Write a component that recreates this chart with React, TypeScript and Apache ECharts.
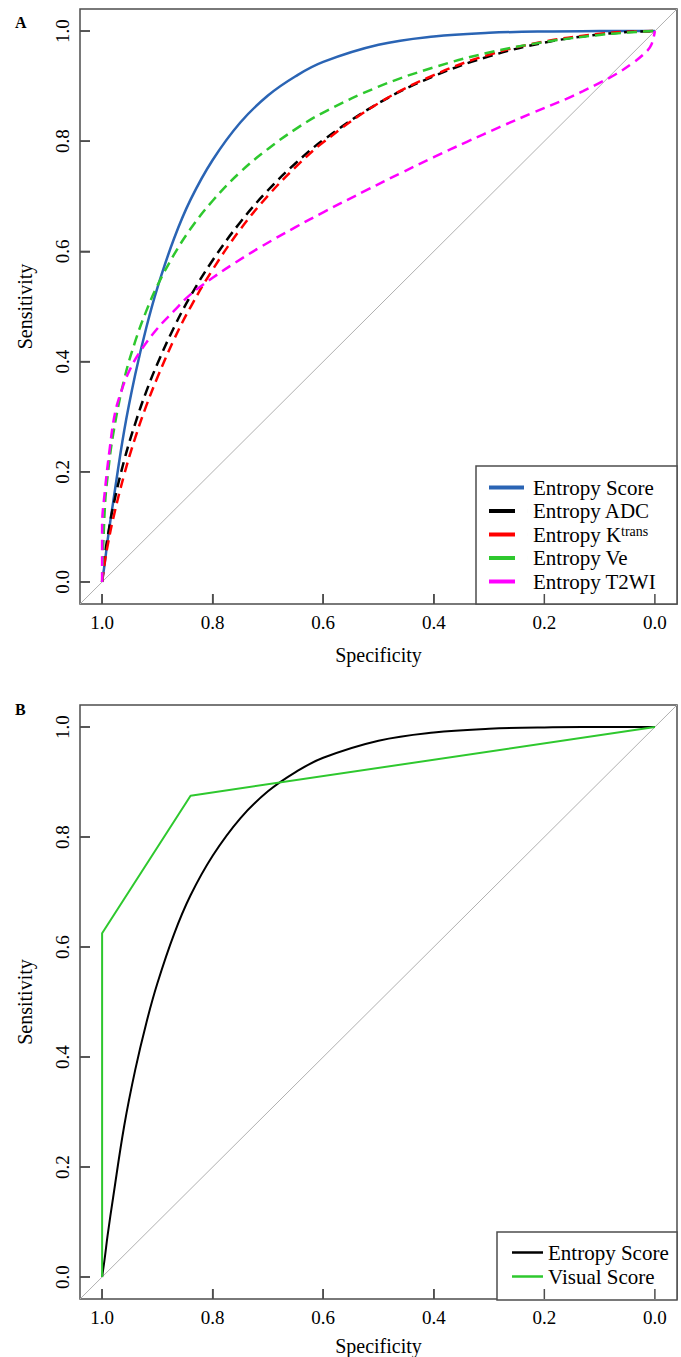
import React, { useEffect, useRef } from 'react';
import * as echarts from 'echarts';

// Shared specificity grid for the smooth ROC curves
const specGrid = [1, 0.995, 0.99, 0.98, 0.96, 0.94, 0.92, 0.9, 0.87, 0.84, 0.8, 0.75, 0.7, 0.65, 0.6, 0.5, 0.4, 0.3, 0.2, 0.1, 0.05, 0];
const scoreSens = [0, 0.036, 0.076, 0.145, 0.275, 0.377, 0.462, 0.534, 0.623, 0.694, 0.766, 0.834, 0.883, 0.918, 0.944, 0.975, 0.99, 0.9967, 0.9993, 0.9999, 1, 1];
const adcSens = [0, 0.048, 0.082, 0.137, 0.221, 0.288, 0.346, 0.396, 0.462, 0.519, 0.584, 0.653, 0.711, 0.76, 0.802, 0.869, 0.918, 0.954, 0.979, 0.9938, 0.9981, 1];
const ktransSens = [0, 0.037, 0.066, 0.115, 0.195, 0.262, 0.32, 0.371, 0.44, 0.499, 0.567, 0.64, 0.701, 0.753, 0.798, 0.869, 0.92, 0.957, 0.981, 0.995, 0.9986, 1];
const veSens = [0, 0.136, 0.192, 0.268, 0.368, 0.437, 0.492, 0.538, 0.594, 0.641, 0.692, 0.744, 0.786, 0.822, 0.852, 0.899, 0.934, 0.961, 0.98, 0.993, 0.9974, 1];

const t2Spec = [1, 1, 0.995, 0.986, 0.977, 0.965, 0.95, 0.93, 0.9, 0.87, 0.84, 0.8, 0.76, 0.71, 0.65, 0.6, 0.52, 0.46, 0.4, 0.34, 0.28, 0.22, 0.16, 0.13, 0.1, 0.07, 0.04, 0.015, 0.006, 0];
const t2Sens = [0, 0.1, 0.165, 0.244, 0.305, 0.347, 0.385, 0.42, 0.46, 0.492, 0.522, 0.552, 0.579, 0.61, 0.644, 0.671, 0.712, 0.742, 0.771, 0.799, 0.826, 0.852, 0.877, 0.891, 0.906, 0.922, 0.942, 0.963, 0.976, 1];

const visualSpec = [1, 1, 0.84, 0];
const visualSens = [0, 0.625, 0.875, 1];

const diagSpec = [1.04, -0.04];
const diagSens = [-0.04, 1.04];

const tickValues = [0, 0.2, 0.4, 0.6, 0.8, 1.0];
const AXIS_MIN = -0.04;
const AXIS_MAX = 1.04;

const SERIF = "'Liberation Serif', 'Times New Roman', serif";
const BOX = '#4d4d4d';
const BLUE = '#2a64b4';
const GREEN = '#2ec82e';

const zip = (xs: number[], ys: number[]) => xs.map((x, i) => [x, ys[i]]);

const longIcon = 'path://M0 0H35V4H0Z M38.99 0H39V4H38.99Z';
const shortIcon = 'path://M0 0H26V4H0Z M38.99 0H39V4H38.99Z';

const tickStyle = { show: true, inside: true, length: 10, customValues: tickValues, lineStyle: { color: BOX, width: 1.5 } };

function makeX(gridIndex: number, nameGap: number) {
  return {
    type: 'value',
    gridIndex,
    min: AXIS_MIN,
    max: AXIS_MAX,
    inverse: true,
    name: 'Specificity',
    nameLocation: 'middle',
    nameGap,
    nameTextStyle: { fontFamily: SERIF, fontSize: 20, color: '#000' },
    axisLine: { show: false, onZero: false },
    axisTick: tickStyle,
    axisLabel: { show: true, customValues: tickValues, margin: 9, fontFamily: SERIF, fontSize: 19, color: '#000', formatter: (v: number) => v.toFixed(1) },
    splitLine: { show: false },
  };
}

function makeY(gridIndex: number) {
  return {
    type: 'value',
    gridIndex,
    min: AXIS_MIN,
    max: AXIS_MAX,
    name: 'Sensitivity',
    nameLocation: 'middle',
    nameGap: 45,
    nameTextStyle: { fontFamily: SERIF, fontSize: 20, color: '#000' },
    axisLine: { show: false, onZero: false },
    axisTick: tickStyle,
    axisLabel: { show: true, rotate: 90, customValues: tickValues, margin: 8, fontFamily: SERIF, fontSize: 19, color: '#000', formatter: (v: number) => v.toFixed(1) },
    splitLine: { show: false },
  };
}

function lineSeries(name: string, idx: number, data: number[][], color: string, width: number, dashed: boolean, smooth: number | boolean) {
  return {
    type: 'line',
    name,
    xAxisIndex: idx,
    yAxisIndex: idx,
    data,
    showSymbol: false,
    symbol: 'none',
    smooth,
    clip: false,
    lineStyle: { color, width, type: dashed ? [10, 6] : 'solid', cap: 'butt' },
    itemStyle: { color },
    silent: true,
  };
}

const legendBoxes = [
  { type: 'rect', id: 'legA', shape: { x: 476, y: 466, width: 201, height: 138 }, style: { fill: '#fff', stroke: BOX, lineWidth: 1.5 }, z: 5, silent: true },
  { type: 'rect', id: 'legB', shape: { x: 497, y: 1232, width: 180, height: 68 }, style: { fill: '#fff', stroke: BOX, lineWidth: 1.5 }, z: 5, silent: true },
];

export default function App() {
  const ref = useRef<HTMLDivElement>(null);
  useEffect(() => {
    if (!ref.current) return;
    const chart = echarts.init(ref.current, undefined, { renderer: 'svg' });
    const textStyle = { fontFamily: SERIF, fontSize: 21, color: '#000' };
    const option = {
      animation: false,
      backgroundColor: '#fff',
      title: [
        { text: 'A', left: 15, top: 14, padding: 0, textStyle: { fontFamily: SERIF, fontSize: 16, fontWeight: 'bold', color: '#000' } },
        { text: 'B', left: 15, top: 701, padding: 0, textStyle: { fontFamily: SERIF, fontSize: 16, fontWeight: 'bold', color: '#000' } },
      ],
      grid: [
        { left: 80, top: 9, width: 597, height: 595, show: true, borderColor: BOX, borderWidth: 1.5, backgroundColor: 'transparent' },
        { left: 80, top: 705, width: 597, height: 595, show: true, borderColor: BOX, borderWidth: 1.5, backgroundColor: 'transparent' },
      ],
      xAxis: [makeX(0, 41), makeX(1, 37)],
      yAxis: [makeY(0), makeY(1)],
      graphic: legendBoxes,
      legend: [
        {
          orient: 'vertical',
          left: 489,
          top: 477,
          padding: 0,
          itemGap: 2.5,
          itemWidth: 39,
          itemHeight: 4,
          selectedMode: false,
          z: 10,
          textStyle: {
            ...textStyle,
            rich: { sup: { fontFamily: SERIF, fontSize: 14, color: '#000', verticalAlign: 'top', lineHeight: 12 } },
          },
          formatter: (name: string) => (name === 'Entropy Ktrans' ? 'Entropy K{sup|trans}' : name),
          data: [
            { name: 'Entropy Score', icon: longIcon, itemStyle: { color: BLUE } },
            { name: 'Entropy ADC', icon: shortIcon, itemStyle: { color: '#000' } },
            { name: 'Entropy Ktrans', icon: shortIcon, itemStyle: { color: '#ff0000' } },
            { name: 'Entropy Ve', icon: shortIcon, itemStyle: { color: GREEN } },
            { name: 'Entropy T2WI', icon: shortIcon, itemStyle: { color: '#ff00ff' } },
          ],
        },
        {
          orient: 'vertical',
          left: 512,
          top: 1242,
          padding: 0,
          itemGap: 3,
          itemWidth: 31,
          itemHeight: 2.5,
          selectedMode: false,
          z: 10,
          textStyle,
          data: [
            { name: 'Entropy Score', icon: 'rect', itemStyle: { color: '#000' } },
            { name: 'Visual Score', icon: 'rect', itemStyle: { color: GREEN } },
          ],
        },
      ],
      series: [
        lineSeries('diagA', 0, zip(diagSpec, diagSens), '#b0b0b0', 1, false, false),
        lineSeries('Entropy Score', 0, zip(specGrid, scoreSens), BLUE, 2.5, false, 0.4),
        lineSeries('Entropy ADC', 0, zip(specGrid, adcSens), '#000', 2.5, true, 0.4),
        lineSeries('Entropy Ktrans', 0, zip(specGrid, ktransSens), '#ff0000', 2.5, true, 0.4),
        lineSeries('Entropy Ve', 0, zip(specGrid, veSens), GREEN, 2.5, true, 0.4),
        lineSeries('Entropy T2WI', 0, zip(t2Spec, t2Sens), '#ff00ff', 2.5, true, 0.4),
        lineSeries('diagB', 1, zip(diagSpec, diagSens), '#b0b0b0', 1, false, false),
        lineSeries('Entropy Score', 1, zip(specGrid, scoreSens), '#000', 2, false, 0.4),
        lineSeries('Visual Score', 1, zip(visualSpec, visualSens), GREEN, 2, false, false),
      ],
    };
    chart.setOption(option as any);

    // inward tick marks, positioned through the axes' own scales
    const ticks: any[] = [];
    [0, 1].forEach((gi) => {
      tickValues.forEach((v, k) => {
        const px = chart.convertToPixel({ gridIndex: gi } as any, [v, AXIS_MIN]) as number[];
        const py = chart.convertToPixel({ gridIndex: gi } as any, [AXIS_MAX, v]) as number[];
        if (px && isFinite(px[0])) {
          ticks.push({ type: 'line', id: `tx${gi}_${k}`, z: 100, silent: true, shape: { x1: px[0], y1: px[1], x2: px[0], y2: px[1] - 10 }, style: { stroke: BOX, lineWidth: 1.5 } });
        }
        if (py && isFinite(py[1])) {
          ticks.push({ type: 'line', id: `ty${gi}_${k}`, z: 100, silent: true, shape: { x1: py[0], y1: py[1], x2: py[0] + 10, y2: py[1] }, style: { stroke: BOX, lineWidth: 1.5 } });
        }
      });
    });
    chart.setOption({ graphic: [...legendBoxes, ...ticks] } as any);
    return () => chart.dispose();
  }, []);
  return <div ref={ref} style={{ position: 'absolute', left: 0, top: 0, width: 681, height: 1357 }} />;
}
